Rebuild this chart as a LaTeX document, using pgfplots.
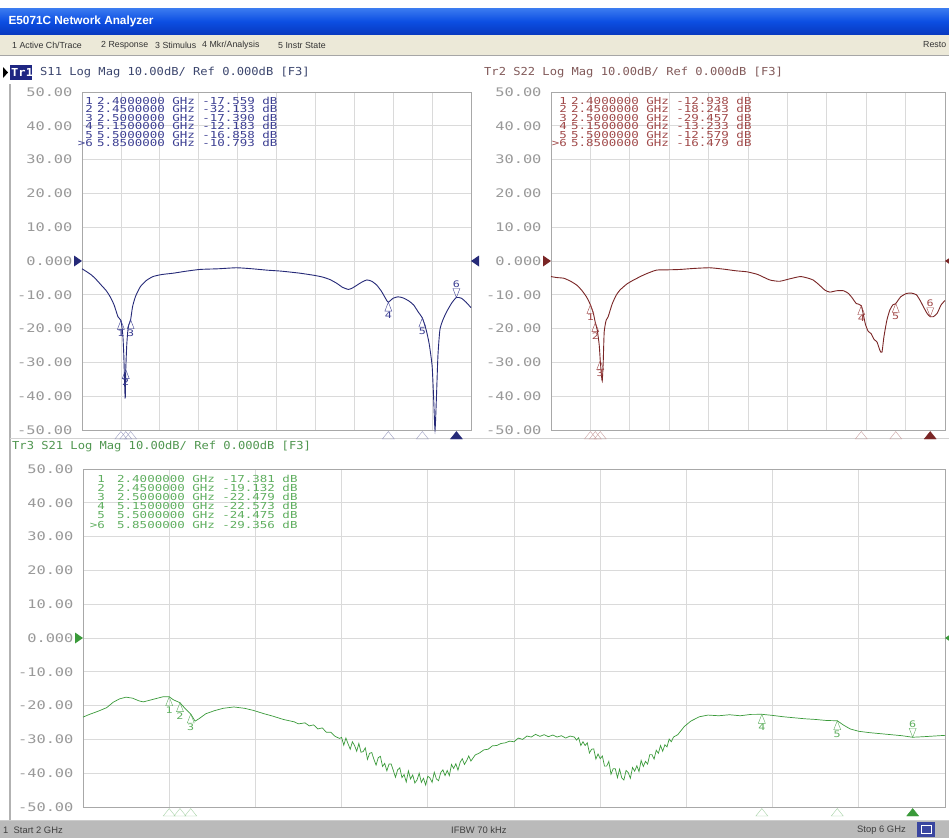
\documentclass[border=0pt]{standalone}
\usepackage{pgfplots}
\pgfplotsset{compat=1.18}
\usepackage{fontspec}
\setmainfont{Liberation Sans}
\newfontfamily\vna[FakeStretch=1.1]{DejaVu Sans Mono}
\newfontfamily\vnaw[FakeStretch=1.3]{DejaVu Sans Mono}

\definecolor{tOne}{HTML}{262A78}
\definecolor{mOne}{HTML}{3B3E92}
\definecolor{lOne}{HTML}{9A9CC0}
\definecolor{hOne}{HTML}{3C466E}
\definecolor{boxOne}{HTML}{1E2682}
\definecolor{tTwo}{HTML}{7A2626}
\definecolor{mTwo}{HTML}{A04848}
\definecolor{lTwo}{HTML}{C9A0A0}
\definecolor{hTwo}{HTML}{825A5A}
\definecolor{tThree}{HTML}{3A9A3A}
\definecolor{mThree}{HTML}{5EAE5E}
\definecolor{lThree}{HTML}{A6D2A6}
\definecolor{hThree}{HTML}{509650}
\definecolor{tickc}{HTML}{999999}
\definecolor{gridc}{HTML}{DADADA}
\definecolor{boxc}{HTML}{A8A8A8}
\definecolor{menubg}{HTML}{ECE9D8}
\definecolor{statusbg}{HTML}{BABABA}
\definecolor{titletop}{HTML}{3C7CF0}
\definecolor{titlemid}{HTML}{0C4EE2}
\definecolor{titlebot}{HTML}{0838BE}
\definecolor{iconc}{HTML}{3A46A0}

% marker glyphs
\pgfdeclareplotmark{mkdn}{%
  \pgfpathmoveto{\pgfqpoint{0pt}{0pt}}\pgfpathlineto{\pgfqpoint{-3.5pt}{-9pt}}%
  \pgfpathlineto{\pgfqpoint{3.5pt}{-9pt}}\pgfpathclose\pgfusepathqstroke}
\pgfdeclareplotmark{mkup}{%
  \pgfpathmoveto{\pgfqpoint{0pt}{0pt}}\pgfpathlineto{\pgfqpoint{-3.5pt}{9pt}}%
  \pgfpathlineto{\pgfqpoint{3.5pt}{9pt}}\pgfpathclose\pgfusepathqstroke}
\pgfdeclareplotmark{axtri}{%
  \pgfpathmoveto{\pgfqpoint{0pt}{-1.5pt}}\pgfpathlineto{\pgfqpoint{-6pt}{-9pt}}%
  \pgfpathlineto{\pgfqpoint{6pt}{-9pt}}\pgfpathclose\pgfusepathqstroke}
\pgfdeclareplotmark{axtrif}{%
  \pgfpathmoveto{\pgfqpoint{0pt}{-1.5pt}}\pgfpathlineto{\pgfqpoint{-6pt}{-9pt}}%
  \pgfpathlineto{\pgfqpoint{6pt}{-9pt}}\pgfpathclose\pgfusepathqfillstroke}
\pgfdeclareplotmark{refl}{%
  \pgfpathmoveto{\pgfqpoint{0pt}{0pt}}\pgfpathlineto{\pgfqpoint{-8pt}{5.5pt}}%
  \pgfpathlineto{\pgfqpoint{-8pt}{-5.5pt}}\pgfpathclose\pgfusepathqfill}
\pgfdeclareplotmark{refr}{%
  \pgfpathmoveto{\pgfqpoint{0pt}{0pt}}\pgfpathlineto{\pgfqpoint{8pt}{5.5pt}}%
  \pgfpathlineto{\pgfqpoint{8pt}{-5.5pt}}\pgfpathclose\pgfusepathqfill}

\pgfplotsset{
  vna/.style={
    scale only axis, height=338pt, anchor=south west,
    xmin=2, xmax=6, ymin=-50, ymax=50,
    xtick={2,2.4,2.8,3.2,3.6,4,4.4,4.8,5.2,5.6,6}, xticklabels={},
    ytick={-50,-40,-30,-20,-10,0,10,20,30,40,50},
    yticklabels={-50.00,-40.00,-30.00,-20.00,-10.00,0.000,10.00,20.00,30.00,40.00,50.00},
    grid=major, major grid style={gridc, line width=0.7pt},
    axis line style={boxc, line width=0.9pt},
    major tick length=0pt,
    yticklabel style={font=\vnaw\fontsize{11.8}{11.8}\selectfont, text=tickc, xshift=-6pt},
    clip=false,
  },
  mlab/.style={nodes near coords, point meta=explicit symbolic,
    every node near coord/.append style={font=\vnaw\fontsize{9}{9}\selectfont, inner sep=0.5pt}},
}

\begin{document}
\begin{tikzpicture}
\path[use as bounding box] (0,0) rectangle (949pt,-838pt);
\fill[white] (0,0) rectangle (949pt,-838pt);

% title bar and menu
\shade[top color=titletop, bottom color=titlebot, middle color=titlemid]
  (0,-8pt) rectangle (949pt,-35pt);
\node[anchor=west, text=white, font=\bfseries\fontsize{11.8}{11.8}\selectfont] at (5pt,-21pt) {E5071C Network Analyzer};
\fill[menubg] (0,-35pt) rectangle (949pt,-55pt);
\draw[gray!70, line width=1pt] (0,-55.5pt) -- (949pt,-55.5pt);
\begin{scope}[font=\fontsize{8.8}{8.8}\selectfont, text=black!80]
  \node[anchor=west, inner sep=0pt] at (12pt,-45pt) {1 Active Ch/Trace};
  \node[anchor=west, inner sep=0pt] at (101pt,-45pt) {2 Response};
  \node[anchor=west, inner sep=0pt] at (155pt,-45pt) {3 Stimulus};
  \node[anchor=west, inner sep=0pt] at (202pt,-45pt) {4 Mkr/Analysis};
  \node[anchor=west, inner sep=0pt] at (278pt,-45pt) {5 Instr State};
  \node[anchor=west, inner sep=0pt] at (923pt,-45pt) {Resto};
\end{scope}

% frame lines
\draw[gray!60, line width=1.5pt] (10pt,-84pt) -- (10pt,-820pt);
\draw[gray!35, line width=1pt] (10pt,-438pt) -- (949pt,-438pt);

% status bar
\fill[statusbg] (0,-820pt) rectangle (949pt,-838pt);
\draw[gray!40, line width=0.8pt] (0,-820pt) -- (949pt,-820pt);
\begin{scope}[font=\fontsize{9.4}{9.4}\selectfont, text=black!75]
  \node[anchor=west, inner sep=0pt] at (3pt,-830pt) {1\ \ Start 2 GHz};
  \node[anchor=west, inner sep=0pt] at (451pt,-830pt) {IFBW 70 kHz};
  \node[anchor=west, inner sep=0pt] at (857pt,-830pt) {Stop 6 GHz};
\end{scope}
\fill[iconc] (917pt,-822pt) rectangle (935pt,-837pt);
\draw[white, line width=0.8pt] (921pt,-825pt) rectangle (931pt,-833pt);

% trace headers
\fill[black] (3pt,-67pt) -- (3pt,-78pt) -- (8pt,-72.5pt) -- cycle;
\fill[boxOne] (10pt,-65pt) rectangle (32pt,-80pt);
\node[anchor=west, inner sep=0pt, text=white, font=\vna\bfseries\fontsize{11}{11}\selectfont] at (11pt,-72.5pt) {Tr1};
\node[anchor=west, inner sep=0pt, text=hOne, font=\vna\fontsize{11}{11}\selectfont] at (40pt,-72.5pt) {S11 Log Mag 10.00dB/ Ref 0.000dB [F3]};
\node[anchor=west, inner sep=0pt, text=hTwo, font=\vna\fontsize{11}{11}\selectfont] at (484pt,-72.5pt) {Tr2 S22 Log Mag 10.00dB/ Ref 0.000dB [F3]};
\node[anchor=west, inner sep=0pt, text=hThree, font=\vna\fontsize{11}{11}\selectfont] at (12pt,-446pt) {Tr3 S21 Log Mag 10.00dB/ Ref 0.000dB [F3]};

% ---------------- S11 ----------------
\begin{axis}[vna, at={(82pt,-430pt)}, width=389pt]
\addplot[tOne, line width=0.9pt, smooth, tension=0.35] coordinates {
 (2.00,-2.3) (2.05,-3.2) (2.10,-4.2) (2.15,-5.6) (2.20,-7.2) (2.25,-8.8)
 (2.29,-10.6) (2.33,-13.0) (2.37,-16.5) (2.40,-17.56) (2.42,-22) (2.43,-28)
 (2.44,-38) (2.445,-40.5) (2.45,-32.13) (2.46,-25) (2.47,-21) (2.48,-19)
 (2.50,-17.39) (2.52,-13.5) (2.55,-10.5) (2.60,-7.6) (2.66,-5.8) (2.73,-4.6)
 (2.82,-4.0) (2.94,-3.6) (3.05,-3.1) (3.21,-2.5) (3.40,-2.3) (3.59,-2.0)
 (3.75,-2.3) (3.90,-2.7) (4.05,-3.0) (4.24,-3.6) (4.40,-4.3) (4.48,-4.8)
 (4.55,-5.5) (4.62,-6.6) (4.68,-7.8) (4.74,-8.4) (4.78,-8.0) (4.83,-7.1)
 (4.88,-6.2) (4.93,-5.6) (4.98,-6.0) (5.03,-7.1) (5.08,-9.0) (5.13,-11.5)
 (5.15,-12.18) (5.20,-11.0) (5.25,-10.6) (5.30,-10.9) (5.36,-11.8) (5.41,-13.0)
 (5.46,-15.2) (5.50,-16.86) (5.54,-20.5) (5.57,-24.5) (5.60,-31) (5.615,-40)
 (5.63,-50) (5.645,-40) (5.66,-28) (5.68,-20.4) (5.71,-17.5) (5.75,-15.0)
 (5.80,-12.5) (5.85,-10.79) (5.90,-11.0) (5.95,-12.2) (6.00,-13.8)
};
\addplot[only marks, mark=mkdn, mOne, mlab, every node near coord/.append style={anchor=north, yshift=-9pt}] coordinates {
 (2.40,-17.559)[1] (2.45,-32.133)[2] (2.50,-17.390)[3] (5.15,-12.183)[4] (5.50,-16.858)[5]};
\addplot[only marks, mark=mkup, mOne, mlab, every node near coord/.append style={anchor=south, yshift=9pt}] coordinates {
 (5.85,-10.793)[6]};
\addplot[only marks, mark=axtri, lOne] coordinates {(2.40,-50) (2.45,-50) (2.50,-50) (5.15,-50) (5.50,-50)};
\addplot[only marks, mark=axtrif, tOne] coordinates {(5.85,-50)};
\addplot[only marks, mark=refl, tOne] coordinates {(2,0)};
\addplot[only marks, mark=refr, tOne] coordinates {(6,0)};
\end{axis}

% ---------------- S22 ----------------
\begin{axis}[vna, at={(551pt,-430pt)}, width=394pt]
\addplot[tTwo, line width=0.9pt, smooth, tension=0.35] coordinates {
 (2.00,-4.6) (2.06,-4.9) (2.13,-5.1) (2.20,-6.0) (2.26,-7.1) (2.31,-8.6)
 (2.36,-10.6) (2.40,-12.94) (2.43,-15.5) (2.45,-18.24) (2.47,-20.5) (2.49,-25)
 (2.50,-29.46) (2.51,-33) (2.52,-35.5) (2.53,-30) (2.54,-21) (2.56,-17.5)
 (2.58,-16.5) (2.62,-12.8) (2.66,-10.2) (2.70,-8.6) (2.77,-6.8) (2.84,-5.6)
 (2.95,-4.0) (3.07,-2.7) (3.20,-2.6) (3.31,-2.5) (3.45,-2.2) (3.61,-2.0)
 (3.75,-2.4) (3.88,-2.9) (3.99,-3.2) (4.10,-4.0) (4.22,-5.6) (4.32,-6.0)
 (4.42,-5.3) (4.53,-4.6) (4.60,-5.0) (4.66,-5.6) (4.72,-7.0) (4.78,-8.6)
 (4.83,-9.2) (4.90,-8.8) (4.97,-8.8) (5.02,-9.6) (5.06,-11.0) (5.10,-12.6)
 (5.15,-13.23) (5.19,-18.5) (5.22,-20.8) (5.25,-21.5) (5.28,-23.2) (5.31,-24.0)
 (5.34,-26.5) (5.36,-27.0) (5.38,-22.4) (5.41,-17.5) (5.44,-14.5) (5.47,-13.0)
 (5.50,-12.58) (5.55,-10.6) (5.61,-9.6) (5.66,-9.5) (5.71,-10.0) (5.75,-11.8)
 (5.78,-13.5) (5.82,-15.6) (5.85,-16.48) (5.88,-16.5) (5.92,-15.5) (5.96,-13.0)
 (6.00,-11.7)
};
\addplot[only marks, mark=mkdn, mTwo, mlab, every node near coord/.append style={anchor=north, yshift=-9pt}] coordinates {
 (2.40,-12.938)[1] (2.45,-18.243)[2] (2.50,-29.457)[3] (5.15,-13.233)[4] (5.50,-12.579)[5]};
\addplot[only marks, mark=mkup, mTwo, mlab, every node near coord/.append style={anchor=south, yshift=9pt}] coordinates {
 (5.85,-16.479)[6]};
\addplot[only marks, mark=axtri, lTwo] coordinates {(2.40,-50) (2.45,-50) (2.50,-50) (5.15,-50) (5.50,-50)};
\addplot[only marks, mark=axtrif, tTwo] coordinates {(5.85,-50)};
\addplot[only marks, mark=refl, tTwo] coordinates {(2,0)};
\addplot[only marks, mark=refr, tTwo] coordinates {(6,0)};
\end{axis}

% ---------------- S21 ----------------
\begin{axis}[vna, at={(83pt,-807pt)}, width=862pt]
\addplot[tThree, line width=0.7pt] coordinates {
 (2.00,-23.4) (2.03,-22.6) (2.06,-21.9) (2.08,-21.4) (2.11,-20.6) (2.14,-19.0)
 (2.17,-18.0) (2.20,-17.5) (2.23,-17.8) (2.26,-18.6) (2.28,-18.9) (2.31,-18.4)
 (2.34,-17.9) (2.37,-17.4) (2.40,-17.38) (2.42,-18.3) (2.45,-19.13) (2.47,-20.6)
 (2.50,-22.48) (2.52,-24.6) (2.54,-23.8) (2.57,-22.4) (2.61,-21.5) (2.65,-20.8)
 (2.70,-20.4) (2.75,-20.8) (2.79,-21.4) (2.84,-22.4) (2.88,-23.1) (2.93,-24.1)
 (2.98,-24.8) (3.00,-25.4) (3.03,-25.1) (3.05,-26.0) (3.07,-25.7) (3.09,-26.9)
 (3.11,-26.6) (3.13,-27.9) (3.15,-27.9) (3.17,-29.1) (3.19,-29.7)
 (3.20,-29.4) (3.21,-31.7) (3.22,-29.6) (3.23,-31.3) (3.24,-32.9) (3.25,-30.7)
 (3.26,-31.8) (3.27,-33.5) (3.28,-31.2) (3.29,-33.8) (3.30,-33.6) (3.31,-32.5)
 (3.32,-35.9) (3.33,-34.1) (3.34,-33.9) (3.35,-35.9) (3.36,-37.6) (3.37,-35.4)
 (3.38,-35.0) (3.39,-38.0) (3.40,-37.1) (3.41,-39.3) (3.42,-37.3) (3.43,-37.3)
 (3.44,-39.2) (3.45,-41.2) (3.46,-39.0) (3.47,-38.4) (3.48,-41.3) (3.49,-40.4)
 (3.50,-42.6) (3.51,-39.3) (3.52,-41.7) (3.53,-40.5) (3.54,-42.9) (3.55,-42.0)
 (3.56,-40.0) (3.57,-42.7) (3.58,-41.5) (3.59,-43.5) (3.60,-40.9) (3.61,-41.4)
 (3.62,-42.7) (3.63,-39.7) (3.64,-41.7) (3.65,-42.2) (3.66,-39.8) (3.67,-39.0)
 (3.68,-40.7) (3.69,-39.2) (3.70,-40.7) (3.71,-37.4) (3.72,-38.6) (3.73,-37.2)
 (3.74,-39.1) (3.75,-36.8) (3.76,-35.7) (3.77,-37.4) (3.78,-36.3) (3.79,-34.9)
 (3.80,-36.4) (3.82,-34.6) (3.84,-34.0) (3.86,-33.1) (3.88,-32.9) (3.90,-31.9)
 (3.92,-31.8) (3.94,-31.2) (3.96,-31.0) (3.98,-30.5) (4.00,-30.7) (4.02,-29.6)
 (4.04,-30.0) (4.06,-29.0) (4.08,-29.3) (4.10,-28.5) (4.12,-29.1) (4.14,-28.6)
 (4.16,-29.2) (4.18,-28.7) (4.20,-29.3) (4.22,-28.9) (4.24,-29.6) (4.26,-29.0)
 (4.28,-29.3) (4.29,-30.2) (4.30,-29.5) (4.31,-31.8) (4.32,-30.7) (4.33,-31.8)
 (4.34,-31.0) (4.35,-34.0) (4.36,-32.9) (4.37,-32.8) (4.38,-35.8) (4.39,-34.3)
 (4.40,-35.7) (4.41,-34.9) (4.42,-37.9) (4.43,-37.9) (4.44,-36.5) (4.45,-40.3)
 (4.46,-38.7) (4.47,-38.7) (4.48,-41.3) (4.49,-38.8) (4.50,-41.4) (4.51,-42.0)
 (4.52,-39.2) (4.53,-39.8) (4.54,-41.5) (4.55,-38.3) (4.56,-39.4) (4.57,-37.8)
 (4.58,-39.5) (4.59,-36.2) (4.60,-38.0) (4.61,-36.5) (4.62,-37.3) (4.63,-34.5)
 (4.64,-34.5) (4.65,-35.8) (4.66,-33.2) (4.67,-34.1) (4.68,-31.8) (4.69,-33.5)
 (4.70,-31.6) (4.71,-32.2) (4.72,-29.9) (4.73,-30.7) (4.74,-29.3) (4.76,-28.6)
 (4.79,-26.2) (4.82,-24.6) (4.86,-23.3) (4.90,-22.8) (4.95,-23.0) (5.00,-22.7)
 (5.05,-23.0) (5.10,-22.6) (5.15,-22.57) (5.20,-22.9) (5.25,-23.3) (5.30,-23.6)
 (5.35,-23.9) (5.40,-24.1) (5.45,-24.4) (5.50,-24.48) (5.53,-25.8) (5.56,-26.9)
 (5.60,-27.6) (5.65,-28.0) (5.70,-28.3) (5.75,-28.6) (5.80,-28.9) (5.85,-29.36)
 (5.90,-29.2) (5.95,-29.0) (6.00,-28.8)
};
\addplot[only marks, mark=mkdn, mThree, mlab, every node near coord/.append style={anchor=north, yshift=-9pt}] coordinates {
 (2.40,-17.381)[1] (2.45,-19.132)[2] (2.50,-22.479)[3] (5.15,-22.573)[4] (5.50,-24.475)[5]};
\addplot[only marks, mark=mkup, mThree, mlab, every node near coord/.append style={anchor=south, yshift=9pt}] coordinates {
 (5.85,-29.356)[6]};
\addplot[only marks, mark=axtri, lThree] coordinates {(2.40,-50) (2.45,-50) (2.50,-50) (5.15,-50) (5.50,-50)};
\addplot[only marks, mark=axtrif, tThree] coordinates {(5.85,-50)};
\addplot[only marks, mark=refl, tThree] coordinates {(2,0)};
\addplot[only marks, mark=refr, tThree] coordinates {(6,0)};
\end{axis}

% marker tables
\begin{scope}[font=\vnaw\fontsize{9.6}{9.6}\selectfont, inner sep=0pt]
\foreach \n/\t [count=\k from 0] in {1/2.4000000 GHz -17.559 dB, 2/2.4500000 GHz -32.133 dB,
  3/2.5000000 GHz -17.390 dB, 4/5.1500000 GHz -12.183 dB, 5/5.5000000 GHz -16.858 dB,
  >6/5.8500000 GHz -10.793 dB} {
  \node[anchor=base east, text=mOne] at (93pt,{-104.5pt-\k*8.4pt}) {\n};
  \node[anchor=base west, text=mOne] at (97pt,{-104.5pt-\k*8.4pt}) {\t};
}
\foreach \n/\t [count=\k from 0] in {1/2.4000000 GHz -12.938 dB, 2/2.4500000 GHz -18.243 dB,
  3/2.5000000 GHz -29.457 dB, 4/5.1500000 GHz -13.233 dB, 5/5.5000000 GHz -12.579 dB,
  >6/5.8500000 GHz -16.479 dB} {
  \node[anchor=base east, text=mTwo] at (567pt,{-104.5pt-\k*8.4pt}) {\n};
  \node[anchor=base west, text=mTwo] at (571pt,{-104.5pt-\k*8.4pt}) {\t};
}
\foreach \n/\t [count=\k from 0] in {1/2.4000000 GHz -17.381 dB, 2/2.4500000 GHz -19.132 dB,
  3/2.5000000 GHz -22.479 dB, 4/5.1500000 GHz -22.573 dB, 5/5.5000000 GHz -24.475 dB,
  >6/5.8500000 GHz -29.356 dB} {
  \node[anchor=base east, text=mThree] at (105pt,{-482pt-\k*9.2pt}) {\n};
  \node[anchor=base west, text=mThree] at (117pt,{-482pt-\k*9.2pt}) {\t};
}
\end{scope}
\end{tikzpicture}
\end{document}
